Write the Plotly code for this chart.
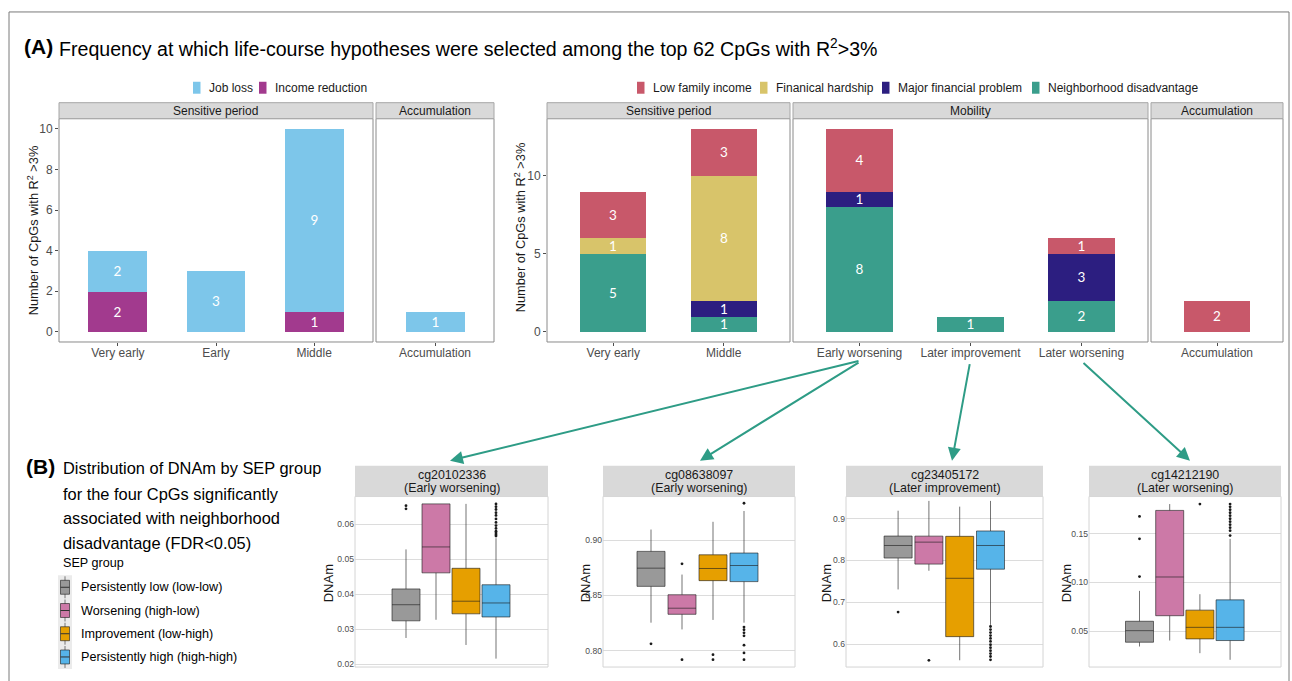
import plotly.graph_objects as go

W, H = 1292, 681

# ---------------- Panel A data ----------------
# Left block: job loss / income reduction
left_sp_periods = ["Very early", "Early", "Middle"]
left_acc_periods = ["Accumulation"]
job_loss_sp = [2, 3, 9]
income_reduction_sp = [2, 0, 1]
job_loss_acc = [1]
income_reduction_acc = [0]

# Right block: four family / neighbourhood exposures
right_sp_periods = ["Very early", "Middle"]
right_mob_periods = ["Early worsening", "Later improvement", "Later worsening"]
right_acc_periods = ["Accumulation"]
neigh_sp = [5, 1]
major_sp = [0, 1]
hardship_sp = [1, 8]
lowinc_sp = [3, 3]
neigh_mob = [8, 1, 2]
major_mob = [1, 0, 3]
hardship_mob = [0, 0, 0]
lowinc_mob = [4, 0, 1]
neigh_acc = [0]
major_acc = [0]
hardship_acc = [0]
lowinc_acc = [2]

# ---------------- Panel B data ----------------
sep_groups = ["Persistently low (low-low)", "Worsening (high-low)",
              "Improvement (low-high)", "Persistently high (high-high)"]
cpg_names = ["cg20102336", "cg08638097", "cg23405172", "cg14212190"]
cpg_patterns = ["(Early worsening)", "(Early worsening)",
                "(Later improvement)", "(Later worsening)"]

# lower whisker, Q1, median, Q3, upper whisker for each SEP group
cg20102336_stats = [[0.0275, 0.0324, 0.0370, 0.0415, 0.0528],
                    [0.0327, 0.0461, 0.0535, 0.0658, 0.0658],
                    [0.0255, 0.0344, 0.0380, 0.0474, 0.0658],
                    [0.0216, 0.0335, 0.0375, 0.0427, 0.0560]]
cg20102336_outliers = [[0.0653, 0.0644], [], [],
                       [0.0658, 0.0650, 0.0642, 0.0633, 0.0625, 0.0615, 0.0605,
                        0.0596, 0.0588, 0.0580, 0.0575, 0.0570, 0.0566]]

cg08638097_stats = [[0.8253, 0.8582, 0.8747, 0.8899, 0.9097],
                    [0.8192, 0.8329, 0.8384, 0.8506, 0.8689],
                    [0.8278, 0.8634, 0.8744, 0.8868, 0.9167],
                    [0.8253, 0.8625, 0.8771, 0.8884, 0.9265]]
cg08638097_outliers = [[0.8061], [0.8786, 0.7918], [0.7963, 0.7918],
                       [0.9335, 0.8213, 0.8189, 0.8161, 0.8134, 0.8049, 0.7979, 0.7918]]

cg23405172_stats = [[0.7309, 0.8058, 0.8357, 0.8582, 0.9186],
                    [0.7754, 0.7913, 0.8437, 0.8580, 0.9420],
                    [0.5620, 0.6184, 0.7575, 0.8575, 0.9283],
                    [0.6464, 0.7792, 0.8357, 0.8703, 0.9420]]
cg23405172_outliers = [[0.677], [0.5618], [],
                       [0.6425, 0.6353, 0.628, 0.621, 0.614, 0.607, 0.599,
                        0.592, 0.585, 0.578, 0.571, 0.563]]

cg14212190_stats = [[0.0345, 0.0389, 0.0507, 0.0603, 0.0914],
                    [0.0406, 0.0660, 0.1056, 0.1737, 0.1802],
                    [0.0277, 0.0423, 0.0541, 0.0717, 0.0880],
                    [0.0209, 0.0406, 0.0541, 0.0822, 0.1446]]
cg14212190_outliers = [[0.1676, 0.1446, 0.106], [], [0.1802],
                       [0.1802, 0.1774, 0.1744, 0.1713, 0.1683, 0.1652, 0.1622,
                        0.1591, 0.1561, 0.1530, 0.1480]]

# ---------------- styling ----------------
FONT = "Liberation Sans, Arial, sans-serif"
NUMFONT = "Lato, Open Sans, sans-serif"
C_JOB = "#7DC6EA"
C_INC = "#A23A8E"
C_LOW = "#C8586A"
C_HARD = "#D8C46A"
C_MAJOR = "#2C1E80"
C_NEIGH = "#3A9E8C"
SEP_COLORS = ["#999999", "#CC79A7", "#E69F00", "#56B4E9"]
BOX_LINE = "rgba(30,30,30,0.62)"
TEAL = "#2E9C86"
TICK_C = "#4d4d4d"
STRIP_FILL = "#d9d9d9"
PANEL_BORDER = "#8a8a8a"


def fx(p):
    return p / W


def fy(p):
    return 1 - p / H


fig = go.Figure()
shapes = []
annotations = []


def label_text(vals):
    return [str(v) if v else "" for v in vals]


def add_bar(cats, vals, color, ax):
    fig.add_trace(go.Bar(
        x=cats, y=vals, marker=dict(color=color, line=dict(width=0)),
        width=0.6, text=label_text(vals), textposition="inside",
        insidetextanchor="middle", textangle=0, constraintext="none",
        textfont=dict(family=NUMFONT, size=13.5, color="white"),
        xaxis="x" + ax, yaxis="y" + ax, showlegend=False, hoverinfo="skip"))


# ---- Panel A, left block ----
add_bar(left_sp_periods, income_reduction_sp, C_INC, "")
add_bar(left_sp_periods, job_loss_sp, C_JOB, "")
add_bar(left_acc_periods, income_reduction_acc, C_INC, "2")
add_bar(left_acc_periods, job_loss_acc, C_JOB, "2")

# ---- Panel A, right block (stack: neighbourhood, major, hardship, low income) ----
for cats, series, ax in [
    (right_sp_periods, [neigh_sp, major_sp, hardship_sp, lowinc_sp], "3"),
    (right_mob_periods, [neigh_mob, major_mob, hardship_mob, lowinc_mob], "4"),
    (right_acc_periods, [neigh_acc, major_acc, hardship_acc, lowinc_acc], "5"),
]:
    for vals, col in zip(series, [C_NEIGH, C_MAJOR, C_HARD, C_LOW]):
        add_bar(cats, vals, col, ax)

layout_axes = {}

A_TOP, A_BOT = 119, 343
STRIP_TOP = 103


def cat_axis(name, cats, left, right):
    layout_axes[name] = dict(
        domain=[fx(left), fx(right)], type="category",
        categoryorder="array", categoryarray=cats,
        range=[-0.6, len(cats) - 0.4], anchor=name.replace("xaxis", "y"),
        ticks="outside", ticklen=3, tickcolor=TICK_C, tickwidth=1,
        ticklabelstandoff=-3,
        tickfont=dict(family=FONT, size=12, color=TICK_C),
        showgrid=False, zeroline=False, showline=False, fixedrange=True)


def count_axis(name, xname, rng, tickvals, show):
    layout_axes[name] = dict(
        domain=[fy(A_BOT), fy(A_TOP)], range=rng, anchor=xname,
        tickvals=tickvals if show else [], ticks="outside" if show else "",
        ticklen=3, tickcolor=TICK_C, tickwidth=1,
        tickfont=dict(family=FONT, size=12, color=TICK_C),
        showticklabels=show, showgrid=False, zeroline=False,
        showline=False, fixedrange=True)


a_facets = [
    ("xaxis", "yaxis", "x", left_sp_periods, 59, 373, "Sensitive period", [-0.5, 10.5], [0, 2, 4, 6, 8, 10], True),
    ("xaxis2", "yaxis2", "x2", left_acc_periods, 376, 494, "Accumulation", [-0.5, 10.5], [], False),
    ("xaxis3", "yaxis3", "x3", right_sp_periods, 547, 790, "Sensitive period", [-0.65, 13.65], [0, 5, 10], True),
    ("xaxis4", "yaxis4", "x4", right_mob_periods, 793, 1148, "Mobility", [-0.65, 13.65], [], False),
    ("xaxis5", "yaxis5", "x5", right_acc_periods, 1151, 1283, "Accumulation", [-0.65, 13.65], [], False),
]
for xa, ya, xname, cats, l, r, strip, rng, tv, show in a_facets:
    cat_axis(xa, cats, l, r)
    count_axis(ya, xname, rng, tv, show)
    shapes.append(dict(type="rect", xref="paper", yref="paper",
                       x0=fx(l), x1=fx(r), y0=fy(A_BOT), y1=fy(A_TOP),
                       line=dict(color=PANEL_BORDER, width=1), layer="above"))
    shapes.append(dict(type="rect", xref="paper", yref="paper",
                       x0=fx(l), x1=fx(r), y0=fy(A_TOP), y1=fy(STRIP_TOP),
                       line=dict(color="#a6a6a6", width=1), fillcolor=STRIP_FILL, layer="above"))
    annotations.append(dict(text=strip, x=fx((l + r) / 2), y=fy(111), xref="paper", yref="paper",
                            showarrow=False, xanchor="center", yanchor="middle",
                            font=dict(family=FONT, size=12, color="#1a1a1a")))

# y-axis titles in panel A
for xpos, ypos in [(33, 231), (520, 228)]:
    annotations.append(dict(text="Number of CpGs with R<sup>2</sup> >3%", x=fx(xpos), y=fy(ypos),
                            xref="paper", yref="paper", showarrow=False, textangle=-90,
                            xanchor="center", yanchor="middle",
                            font=dict(family=FONT, size=12.8, color="#1a1a1a")))

# legends of panel A
def legend_item(sx, label, color, ymid=88, w=7.5, h=12):
    shapes.append(dict(type="rect", xref="paper", yref="paper",
                       x0=fx(sx), x1=fx(sx + w), y0=fy(ymid + h / 2), y1=fy(ymid - h / 2),
                       line=dict(width=0), fillcolor=color, layer="above"))
    annotations.append(dict(text=label, x=fx(sx + w + 6.5), y=fy(ymid), xref="paper", yref="paper",
                            showarrow=False, xanchor="left", yanchor="middle",
                            font=dict(family=FONT, size=12, color="#1a1a1a")))


legend_item(193, "Job loss", C_JOB)
legend_item(259, "Income reduction", C_INC)
legend_item(637, "Low family income", C_LOW)
legend_item(760, "Finanical hardship", C_HARD)
legend_item(882, "Major financial problem", C_MAJOR)
legend_item(1032, "Neighborhood disadvantage", C_NEIGH)

# titles
annotations.append(dict(text="<b>(A)</b>", x=fx(22), y=fy(47), xref="paper", yref="paper",
                        showarrow=False, xanchor="left", yanchor="middle",
                        font=dict(family=FONT, size=21, color="black")))
annotations.append(dict(text="Frequency at which life-course hypotheses were selected among the top 62 CpGs with R<sup>2</sup>>3%",
                        x=fx(57), y=fy(48), xref="paper", yref="paper",
                        showarrow=False, xanchor="left", yanchor="middle",
                        font=dict(family=FONT, size=19.6, color="black")))
annotations.append(dict(text="<b>(B)</b>", x=fx(24), y=fy(468), xref="paper", yref="paper",
                        showarrow=False, xanchor="left", yanchor="middle",
                        font=dict(family=FONT, size=21, color="black")))
for txt, yy in [("Distribution of DNAm by SEP group", 469),
                ("for the four CpGs significantly", 495),
                ("associated with neighborhood", 520),
                ("disadvantage (FDR<0.05)", 545)]:
    annotations.append(dict(text=txt, x=fx(61), y=fy(yy), xref="paper", yref="paper",
                            showarrow=False, xanchor="left", yanchor="middle",
                            font=dict(family=FONT, size=16.4, color="black")))

# SEP group legend
annotations.append(dict(text="SEP group", x=fx(61), y=fy(565), xref="paper", yref="paper",
                        showarrow=False, xanchor="left", yanchor="middle",
                        font=dict(family=FONT, size=12.6, color="black")))
shapes.append(dict(type="rect", xref="paper", yref="paper", x0=fx(58), x1=fx(72),
                   y0=fy(671), y1=fy(577), line=dict(width=0), fillcolor="#ebebeb", layer="above"))
for i, (grp, col) in enumerate(zip(sep_groups, SEP_COLORS)):
    yc = 589 + i * 23.3
    shapes.append(dict(type="line", xref="paper", yref="paper", x0=fx(65), x1=fx(65),
                       y0=fy(yc + 11), y1=fy(yc - 11), line=dict(color="#777777", width=1), layer="above"))
    shapes.append(dict(type="rect", xref="paper", yref="paper", x0=fx(60.5), x1=fx(69.5),
                       y0=fy(yc + 7), y1=fy(yc - 7), line=dict(color=BOX_LINE, width=1),
                       fillcolor=col, layer="above"))
    shapes.append(dict(type="line", xref="paper", yref="paper", x0=fx(60.5), x1=fx(69.5),
                       y0=fy(yc), y1=fy(yc), line=dict(color="#333333", width=1), layer="above"))
    annotations.append(dict(text=grp, x=fx(79), y=fy(yc), xref="paper", yref="paper",
                            showarrow=False, xanchor="left", yanchor="middle",
                            font=dict(family=FONT, size=12.6, color="black")))

# ---- Panel B boxplots ----
B_STRIP_TOP, B_TOP, B_BOT = 467, 498, 669
box_panels = [
    (cg20102336_stats, cg20102336_outliers, 355, 548, 451.0, 30.0, [0.0192, 0.0679], [0.02, 0.03, 0.04, 0.05, 0.06], ".2f", 328),
    (cg08638097_stats, cg08638097_outliers, 603, 795, 697.5, 31.0, [0.7851, 0.9396], [0.80, 0.85, 0.90], ".2f", 585),
    (cg23405172_stats, cg23405172_outliers, 846, 1043, 944.3, 30.8, [0.5459, 0.9524], [0.6, 0.7, 0.8, 0.9], ".1f", 826),
    (cg14212190_stats, cg14212190_outliers, 1089, 1281, 1184.8, 30.2, [0.0135, 0.1879], [0.05, 0.10, 0.15], ".2f", 1066),
]
for k, (stats, outs, l, r, c, s, yr, tv, fmt, title_x) in enumerate(box_panels):
    n = k + 6
    xa, ya = f"x{n}", f"y{n}"
    for i, (st, col) in enumerate(zip(stats, SEP_COLORS)):
        fig.add_trace(go.Box(
            x=[i], lowerfence=[st[0]], q1=[st[1]], median=[st[2]], q3=[st[3]], upperfence=[st[4]],
            orientation="v", width=28.0 / s, fillcolor=col, line=dict(color=BOX_LINE, width=1),
            whiskerwidth=0, boxpoints=False, xaxis=xa, yaxis=ya, showlegend=False, hoverinfo="skip"))
        if outs[i]:
            fig.add_trace(go.Scatter(
                x=[i] * len(outs[i]), y=outs[i], mode="markers",
                marker=dict(size=2.8, color="#1a1a1a"), xaxis=xa, yaxis=ya,
                showlegend=False, hoverinfo="skip"))
    layout_axes[f"xaxis{n}"] = dict(
        domain=[fx(l), fx(r)], range=[1.5 - (c - l) / s, 1.5 + (r - c) / s], anchor=ya,
        showgrid=False, zeroline=False, showticklabels=False, ticks="", showline=False, fixedrange=True)
    layout_axes[f"yaxis{n}"] = dict(
        domain=[fy(B_BOT), fy(B_TOP)], range=yr, anchor=xa,
        tickvals=tv, ticktext=[format(v, fmt) for v in tv], ticks="",
        tickfont=dict(family=FONT, size=8.6, color=TICK_C),
        showgrid=True, gridcolor="#dcdcdc", gridwidth=1, zeroline=False,
        showline=False, fixedrange=True)
    shapes.append(dict(type="rect", xref="paper", yref="paper",
                       x0=fx(l), x1=fx(r), y0=fy(B_BOT), y1=fy(B_TOP),
                       line=dict(color="#d4d4d4", width=1), layer="above"))
    shapes.append(dict(type="rect", xref="paper", yref="paper",
                       x0=fx(l), x1=fx(r), y0=fy(B_TOP), y1=fy(B_STRIP_TOP),
                       line=dict(width=0), fillcolor=STRIP_FILL, layer="above"))
    for txt, yy in [(cpg_names[k], 476), (cpg_patterns[k], 489.5)]:
        annotations.append(dict(text=txt, x=fx((l + r) / 2), y=fy(yy), xref="paper", yref="paper",
                                showarrow=False, xanchor="center", yanchor="middle",
                                font=dict(family=FONT, size=12.4, color="#1a1a1a")))
    annotations.append(dict(text="DNAm", x=fx(title_x), y=fy(585), xref="paper", yref="paper",
                            showarrow=False, textangle=-90, xanchor="center", yanchor="middle",
                            font=dict(family=FONT, size=13, color="#1a1a1a")))

# arrows linking the mobility patterns to their CpGs
for (tx, ty), (hx, hy) in [((860, 362), (450, 462)), ((860, 363), (700, 462)),
                           ((970, 364), (952, 462)), ((1082, 363), (1190, 462))]:
    annotations.append(dict(text="", x=fx(hx), y=fy(hy), xref="paper", yref="paper",
                            ax=tx - hx, ay=ty - hy, axref="pixel", ayref="pixel",
                            showarrow=True, arrowhead=2, arrowsize=1.3, arrowwidth=2,
                            arrowcolor=TEAL, standoff=0))

# outer frame
shapes.append(dict(type="rect", xref="paper", yref="paper", x0=fx(9), x1=fx(1289),
                   y0=fy(700), y1=fy(12), line=dict(color="#7a7a7a", width=1), layer="above"))

fig.update_layout(
    width=W, height=H, autosize=False,
    margin=dict(l=0, r=0, t=0, b=0, pad=0),
    paper_bgcolor="white", plot_bgcolor="white",
    barmode="stack", bargap=0, showlegend=False,
    font=dict(family=FONT, color="#1a1a1a"),
    shapes=shapes, annotations=annotations,
    **layout_axes)

fig.write_html("out.html")
